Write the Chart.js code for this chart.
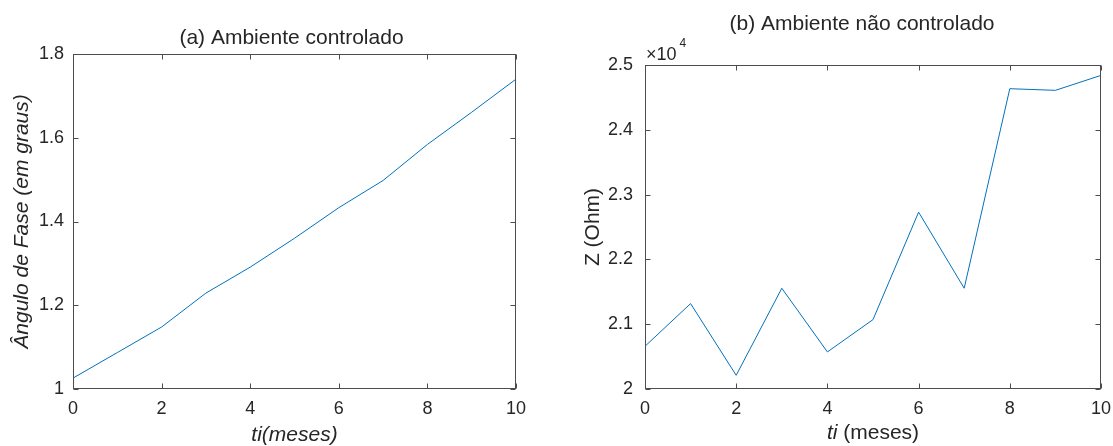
<!DOCTYPE html>
<html>
<head>
<meta charset="utf-8">
<script src="https://cdn.jsdelivr.net/npm/chart.js@4.4.0/dist/chart.umd.min.js"></script>
<style>
  html, body { margin: 0; padding: 0; background: #fff; overflow: hidden; }
  #wrap { position: relative; width: 1113px; height: 446px; overflow: hidden; }
  .panel { position: absolute; top: 0; height: 446px; }
  #pa { left: 0; width: 560px; }
  #pb { left: 560px; width: 580px; }
</style>
</head>
<body>
<div id="wrap">
  <div class="panel" id="pa"><canvas id="chartA" width="560" height="446"></canvas></div>
  <div class="panel" id="pb"><canvas id="chartB" width="580" height="446"></canvas></div>
</div>
<script>
// months on the x axis (both panels)
const months = [0, 1, 2, 3, 4, 5, 6, 7, 8, 9, 10];
const monthTicks = [0, 2, 4, 6, 8, 10];

// (a) phase angle, degrees
const phaseAngle = [1.026, 1.087, 1.148, 1.229, 1.291, 1.360, 1.433, 1.498, 1.584, 1.661, 1.740];
const phaseTicks = [1, 1.2, 1.4, 1.6, 1.8];

// (b) impedance, Ohm
const impedance = [20659, 21318, 20211, 21555, 20572, 21071, 22729, 21555, 24634, 24609, 24840];
const zTicks = [20000, 21000, 22000, 23000, 24000, 25000];

const FONT = "'Liberation Sans', Arial, sans-serif";
const TXT = "#262626";
const AXIS = "#4d4d4d";

// matlab style box: frame, inward ticks, title, exponent and mixed xlabel
const matlabBox = {
  id: "matlabBox",
  afterDraw(chart, args, opts) {
    const { ctx, chartArea: a, scales } = chart;
    const L = Math.round(a.left) + 0.5, R = Math.round(a.right) - 0.5;
    const T = Math.round(a.top) + 0.5, B = Math.round(a.bottom) - 0.5;
    ctx.save();
    ctx.strokeStyle = AXIS;
    ctx.lineWidth = 1;
    ctx.strokeRect(L, T, R - L, B - T);
    ctx.beginPath();
    scales.x.ticks.forEach((t) => {
      const px = Math.round(scales.x.getPixelForValue(t.value)) + 0.5;
      ctx.moveTo(px, B); ctx.lineTo(px, B - 5);
      ctx.moveTo(px, T); ctx.lineTo(px, T + 5);
    });
    scales.y.ticks.forEach((t) => {
      const py = Math.round(scales.y.getPixelForValue(t.value)) + 0.5;
      ctx.moveTo(L, py); ctx.lineTo(L + 5, py);
      ctx.moveTo(R, py); ctx.lineTo(R - 5, py);
    });
    ctx.stroke();

    ctx.fillStyle = TXT;
    ctx.textBaseline = "middle";
    const cx = (a.left + a.right) / 2;
    if (opts.title) {
      ctx.font = "21px " + FONT;
      ctx.textAlign = "center";
      ctx.fillText(opts.title, cx + (opts.titleDx || 0), opts.titleY);
    }
    if (opts.exponent) {
      ctx.textBaseline = "alphabetic";
      ctx.textAlign = "left";
      ctx.font = "18px " + FONT;
      ctx.fillText("\u00d710", a.left + 1, a.top - 5);
      const w = ctx.measureText("\u00d710").width;
      ctx.font = "12px " + FONT;
      ctx.fillText(opts.exponent, a.left + 4 + w, a.top - 18);
    }
    if (opts.xParts) {
      // xlabel with an italic first part
      ctx.textBaseline = "middle";
      ctx.textAlign = "left";
      const parts = opts.xParts.map((p) => ({ text: p[0], font: (p[1] ? "italic " : "") + "21px " + FONT }));
      let total = 0;
      parts.forEach((p) => { ctx.font = p.font; p.w = ctx.measureText(p.text).width; total += p.w; });
      let x = cx - total / 2;
      parts.forEach((p) => { ctx.font = p.font; ctx.fillText(p.text, x, opts.xLabelY); x += p.w; });
    }
    ctx.restore();
  }
};

function fmt(v) { return String(+v.toFixed(2)); }

// (a) Ambiente controlado
new Chart(document.getElementById("chartA").getContext("2d"), {
  type: "line",
  data: {
    datasets: [{
      data: months.map((m, i) => ({ x: m, y: phaseAngle[i] })),
      borderColor: "#0072BD",
      borderWidth: 1,
      pointRadius: 0,
      tension: 0
    }]
  },
  options: {
    responsive: false,
    animation: false,
    layout: { padding: { top: 54, right: 44, left: 0, bottom: 0 } },
    plugins: {
      legend: { display: false },
      tooltip: { enabled: false },
      matlabBox: { title: "(a) Ambiente controlado", titleY: 38, titleDx: -3 }
    },
    scales: {
      x: {
        type: "linear", min: 0, max: 10,
        afterBuildTicks: (s) => { s.ticks = monthTicks.map((v) => ({ value: v })); },
        afterFit: (s) => { s.height = 57; },
        grid: { display: false, drawTicks: false },
        border: { display: false },
        ticks: { color: TXT, padding: 9, font: { family: FONT, size: 18 }, maxRotation: 0 },
        title: { display: true, text: "ti(meses)", color: TXT, padding: 0,
                 font: { family: FONT, size: 21, style: "italic", lineHeight: 1 } }
      },
      y: {
        min: 1, max: 1.8,
        afterBuildTicks: (s) => { s.ticks = phaseTicks.map((v) => ({ value: v })); },
        afterFit: (s) => { s.width = 73; },
        grid: { display: false, drawTicks: false },
        border: { display: false },
        ticks: { color: TXT, padding: 9, font: { family: FONT, size: 18 }, callback: fmt },
        title: { display: true, text: "\u00c2ngulo de Fase (em graus)", color: TXT, padding: { top: 10 },
                 font: { family: FONT, size: 21, style: "italic" } }
      }
    }
  },
  plugins: [matlabBox]
});

// (b) Ambiente não controlado
new Chart(document.getElementById("chartB").getContext("2d"), {
  type: "line",
  data: {
    datasets: [{
      data: months.map((m, i) => ({ x: m, y: impedance[i] })),
      borderColor: "#0072BD",
      borderWidth: 1,
      pointRadius: 0,
      tension: 0
    }]
  },
  options: {
    responsive: false,
    animation: false,
    layout: { padding: { top: 65, right: 39, left: 0, bottom: 0 } },
    plugins: {
      legend: { display: false },
      tooltip: { enabled: false },
      matlabBox: {
        title: "(b) Ambiente n\u00e3o controlado", titleY: 24, titleDx: -11,
        exponent: "4",
        xParts: [["ti", true], [" (meses)", false]], xLabelY: 433
      }
    },
    scales: {
      x: {
        type: "linear", min: 0, max: 10,
        afterBuildTicks: (s) => { s.ticks = monthTicks.map((v) => ({ value: v })); },
        afterFit: (s) => { s.height = 57; },
        grid: { display: false, drawTicks: false },
        border: { display: false },
        ticks: { color: TXT, padding: 9, font: { family: FONT, size: 18 }, maxRotation: 0 }
      },
      y: {
        min: 20000, max: 25000,
        afterBuildTicks: (s) => { s.ticks = zTicks.map((v) => ({ value: v })); },
        afterFit: (s) => { s.width = 85; },
        grid: { display: false, drawTicks: false },
        border: { display: false },
        ticks: { color: TXT, padding: 12, font: { family: FONT, size: 18 }, callback: (v) => fmt(v / 1e4) },
        title: { display: true, text: "Z (Ohm)", color: TXT, padding: { top: 21 },
                 font: { family: FONT, size: 21 } }
      }
    }
  },
  plugins: [matlabBox]
});
</script>
</body>
</html>
